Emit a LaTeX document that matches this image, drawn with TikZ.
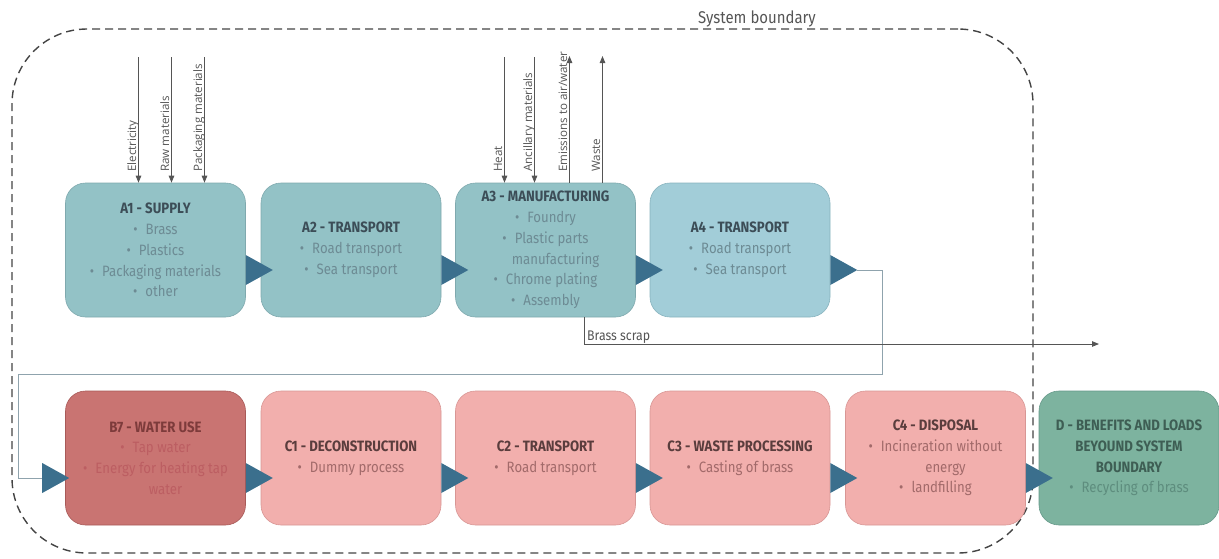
\documentclass[tikz,border=0pt]{standalone}
\usepackage{fontspec}
\setmainfont{Fira Sans}[FakeStretch=0.88]
\newfontfamily\labelfont{Open Sans}
\usetikzlibrary{arrows.meta}
\definecolor{tealfill}{HTML}{93C2C6}
\definecolor{tealline}{HTML}{7FA9AE}
\definecolor{lteal}{HTML}{A2CDD8}
\definecolor{ltealline}{HTML}{88B3BE}
\definecolor{trifill}{HTML}{3B6F8D}
\definecolor{pinkfill}{HTML}{F2AFAD}
\definecolor{pinkline}{HTML}{D89694}
\definecolor{redfill}{HTML}{C97472}
\definecolor{redline}{HTML}{A85A58}
\definecolor{greenfill}{HTML}{7DB39F}
\definecolor{greenline}{HTML}{66998A}
\definecolor{tealtitle}{HTML}{3C4D57}
\definecolor{tealtext}{HTML}{6D8B94}
\definecolor{pinktitle}{HTML}{5A3D3D}
\definecolor{pinktext}{HTML}{A26A6A}
\definecolor{redtitle}{HTML}{7D3B3B}
\definecolor{redtext}{HTML}{BC5E62}
\definecolor{greentitle}{HTML}{3E5E54}
\definecolor{greentext}{HTML}{5E8D7E}
\definecolor{flowgray}{HTML}{555555}
\definecolor{loopgray}{HTML}{8FA3AD}
\definecolor{boundgray}{HTML}{444444}
\newcommand\ttl[2]{\textcolor{#1}{\bfseries #2}}
\newcommand\bl[1]{\textbullet\hspace{8pt}#1}
\begin{document}
\begin{tikzpicture}[x=1pt,y=-1pt,
  procbox/.style={rectangle, rounded corners=20pt, minimum width=180pt, minimum height=134pt,
    inner sep=0pt, align=center, font=\fontsize{15}{20.8}\selectfont, line width=0.6pt},
  tealbox/.style={procbox, fill=tealfill, draw=tealline, text=tealtext},
  ltealbox/.style={procbox, fill=lteal, draw=ltealline, text=tealtext},
  pinkbox/.style={procbox, fill=pinkfill, draw=pinkline, text=pinktext},
  redbox/.style={procbox, fill=redfill, draw=redline, text=redtext},
  greenbox/.style={procbox, fill=greenfill, draw=greenline, text=greentext},
  flow/.style={draw=flowgray, line width=0.9pt, -{Triangle[length=7pt,width=5.5pt]}},
  flowlab/.style={rotate=90, anchor=base west, inner sep=0pt, text=flowgray,
    font=\labelfont\fontsize{11.6}{13}\selectfont},
  loopline/.style={draw=loopgray, line width=1pt},
  boundary/.style={draw=boundgray, line width=1.4pt, dash pattern=on 8pt off 5pt,
    rounded corners=75pt, minimum width=1021pt, minimum height=524pt, inner sep=0pt},
]
\useasboundingbox (0,0) rectangle (1219,558);
\newcommand\tri[1]{\fill[trifill] (#1) -- ++(0,-15) -- ++(27,15) -- ++(-27,15) -- cycle;}

% system boundary
\node[boundary] (sb) at (522.5,291) {};
\node[anchor=base, inner sep=0pt, text=flowgray, font=\fontsize{17}{19}\selectfont] (sblab) at (757,23) {System boundary};

% boxes row 1
\node[tealbox] (a1) at (155.5,250) {\ttl{tealtitle}{A1 - SUPPLY}\\ \bl{Brass}\\ \bl{Plastics}\\ \bl{Packaging materials}\\ \bl{other}};
\node[tealbox] (a2) at (351,250) {\ttl{tealtitle}{A2 - TRANSPORT}\\ \bl{Road transport}\\ \bl{Sea transport}};
\node[tealbox] (a3) at (545.5,250) {\ttl{tealtitle}{A3 - MANUFACTURING}\\ \bl{Foundry}\\ \bl{Plastic parts}\\ \hspace*{20pt}manufacturing\\ \bl{Chrome plating}\\ \bl{Assembly}};
\node[ltealbox] (a4) at (740,250) {\ttl{tealtitle}{A4 - TRANSPORT}\\ \bl{Road transport}\\ \bl{Sea transport}};

% boxes row 2
\node[redbox] (b7) at (155.5,458) {\ttl{redtitle}{B7 - WATER USE}\\ \bl{Tap water}\\ \bl{Energy for heating tap}\\ \hspace*{20pt}water};
\node[pinkbox] (c1) at (351,458) {\ttl{pinktitle}{C1 - DECONSTRUCTION}\\ \bl{Dummy process}};
\node[pinkbox] (c2) at (545.5,458) {\ttl{pinktitle}{C2 - TRANSPORT}\\ \bl{Road transport}};
\node[pinkbox] (c3) at (740,458) {\ttl{pinktitle}{C3 - WASTE PROCESSING}\\ \bl{Casting of brass}};
\node[pinkbox] (c4) at (935.5,458) {\ttl{pinktitle}{C4 - DISPOSAL}\\ \bl{Incineration without}\\ \hspace*{20pt}energy\\ \bl{landfilling}};
\node[greenbox] (d) at (1129,458) {\ttl{greentitle}{D - BENEFITS AND LOADS}\\ \ttl{greentitle}{BEYOUND SYSTEM}\\ \ttl{greentitle}{BOUNDARY}\\ \bl{Recycling of brass}};

% loop connector A4 -> B7
\coordinate (a4out) at ([xshift=27pt,yshift=-20pt]a4.east);
\coordinate (b7in) at ([xshift=-23pt,yshift=-20pt]b7.west);
\draw[loopline] (a4out) -- ++(25,0) |- (18,374) |- (b7in);

% triangles
\tri{[yshift=-20pt]a1.east}
\tri{[yshift=-20pt]a2.east}
\tri{[yshift=-20pt]a3.east}
\tri{[yshift=-20pt]a4.east}
\tri{b7in}
\tri{[yshift=-20pt]b7.east}
\tri{[yshift=-20pt]c1.east}
\tri{[yshift=-20pt]c2.east}
\tri{[yshift=-20pt]c3.east}
\tri{[yshift=-20pt]c4.east}

% inputs to A1
\coordinate (elec) at (138.5,57);
\coordinate (raw) at (171.5,57);
\coordinate (pack) at (204.5,57);
\draw[flow] (elec) -- (elec |- a1.north);
\draw[flow] (raw) -- (raw |- a1.north);
\draw[flow] (pack) -- (pack |- a1.north);
\node[flowlab] (elecl) at (136,172) {Electricity};
\node[flowlab] (rawl) at (169,172) {Raw materials};
\node[flowlab] (packl) at (202,172) {Packaging materials};

% inputs / outputs A3
\coordinate (heat) at (504.5,57);
\coordinate (anc) at (534.5,57);
\coordinate (emis) at (569.5,56);
\coordinate (wast) at (602.5,56);
\draw[flow] (heat) -- (heat |- a3.north);
\draw[flow] (anc) -- (anc |- a3.north);
\draw[flow] (emis |- a3.north) -- (emis);
\draw[flow] (wast |- a3.north) -- (wast);
\node[flowlab] (heatl) at (502,172) {Heat};
\node[flowlab] (ancl) at (532,172) {Ancillary materials};
\node[flowlab] (emisl) at (567,172) {Emissions to air/water};
\node[flowlab] (wastl) at (600,172) {Waste};

% brass scrap
\coordinate (bsend) at (1099,344);
\draw[flow] ([xshift=38.5pt]a3.south) |- (bsend);
\node[anchor=base west, inner sep=0pt, text=flowgray, font=\fontsize{14}{16}\selectfont] (bslab) at (587,340) {Brass scrap};
\end{tikzpicture}
\end{document}
